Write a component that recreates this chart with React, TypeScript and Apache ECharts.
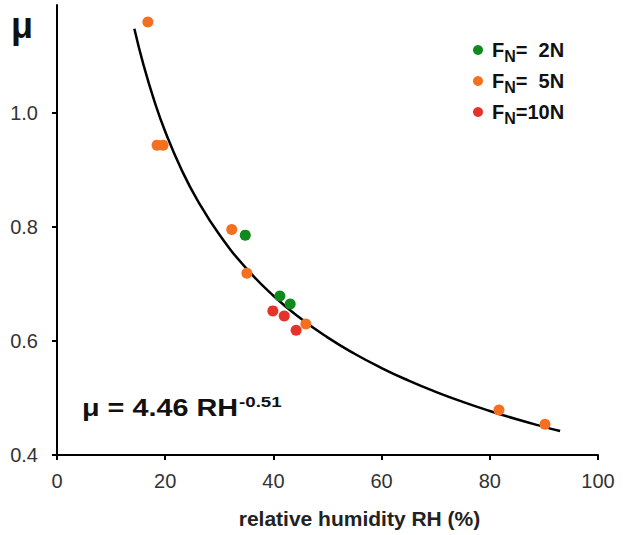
import React, { useEffect, useRef } from "react";
import * as echarts from "echarts";

const RH_2N = [34.8, 41.2, 43.1];
const MU_2N = [0.786, 0.679, 0.665];
const RH_5N = [16.8, 18.5, 19.6, 32.3, 35.1, 46.0, 81.7, 90.2];
const MU_5N = [1.16, 0.944, 0.944, 0.796, 0.719, 0.63, 0.479, 0.454];
const RH_10N = [39.9, 42.0, 44.2];
const MU_10N = [0.653, 0.644, 0.619];

// fitted power law printed on the chart: mu = 4.46 * RH^-0.51
const FIT_A = 4.46;
const FIT_B = -0.51;
const FIT_RH = [14.3, 16, 18, 20, 23, 26, 30, 35, 40, 45, 50, 55, 60, 65, 70, 75, 80, 85, 90, 93];

const X_TICKS = [0, 20, 40, 60, 80, 100];
const Y_TICKS = [0.4, 0.6, 0.8, 1.0];

const zip = (xs: number[], ys: number[]) => xs.map((x, i) => [x, ys[i]]);

const FONT = "'Liberation Sans', Arial, sans-serif";

export default function App() {
  const ref = useRef<HTMLDivElement>(null);
  useEffect(() => {
    const chart = echarts.init(ref.current!, null, { renderer: "svg" });
    const legendRich = {
      f: { fontSize: 20, fontWeight: "bold", color: "#111", fontFamily: FONT, padding: [0, 0, 0, 4] },
      a: { fontSize: 20, fontWeight: "bold", color: "#111", fontFamily: FONT },
      s: { fontSize: 16, fontWeight: "bold", color: "#111", fontFamily: FONT, padding: [12, 0, 0, 0] },
    };
    chart.setOption({
      animation: false,
      grid: { left: 57, right: 25, top: 5, bottom: 80, containLabel: false, outerBoundsMode: "none" },
      legend: {
        orient: "vertical",
        left: 468,
        top: 35,
        itemGap: 7,
        itemWidth: 10,
        itemHeight: 10,
        icon: "circle",
        data: ["2N", "5N", "10N"],
        formatter: (n: string) => {
          const rest = n === "10N" ? "=10N" : n === "5N" ? "=  5N" : "=  2N";
          return `{f|F}{s|N}{a|${rest}}`;
        },
        textStyle: { rich: legendRich },
      },
      xAxis: {
        type: "value",
        min: X_TICKS[0],
        max: X_TICKS[X_TICKS.length - 1],
        interval: 20,
        axisLine: { show: true, lineStyle: { color: "#000", width: 2 } },
        axisTick: { show: true, inside: false, length: 5, lineStyle: { color: "#000", width: 2 } },
        axisLabel: { color: "#333", fontSize: 20, fontFamily: FONT, margin: 16 },
        splitLine: { show: false },
        name: "relative humidity RH (%)",
        nameLocation: "middle",
        nameGap: 53,
        nameTextStyle: { fontSize: 21, fontWeight: "bold", color: "#222", fontFamily: FONT, padding: [0, 0, 0, 64] },
      },
      yAxis: {
        type: "value",
        min: Y_TICKS[0],
        max: 1.19,
        interval: 0.2,
        axisLine: { show: true, lineStyle: { color: "#000", width: 2 } },
        axisTick: { show: true, inside: false, length: 5, lineStyle: { color: "#000", width: 2 } },
        axisLabel: {
          color: "#333",
          fontSize: 20,
          fontFamily: FONT,
          margin: 19,
          showMaxLabel: false,
          formatter: (v: number) => (Y_TICKS.some((t) => Math.abs(t - v) < 1e-6) ? v.toFixed(1) : ""),
        },
        splitLine: { show: false },
      },
      graphic: [
        {
          type: "text",
          x: 11,
          y: 7,
          style: { text: "μ", fontSize: 36, fontWeight: "bold", fill: "#111", fontFamily: FONT, align: "left", verticalAlign: "top" },
        },
        {
          type: "text",
          x: 82,
          y: 408,
          scaleX: 1.2,
          style: {
            text: "μ = 4.46 RH",
            fontSize: 24,
            fontWeight: "bold",
            fill: "#111",
            fontFamily: FONT,
            align: "left",
            verticalAlign: "middle",
          },
        },
        {
          type: "text",
          x: 239,
          y: 402,
          scaleX: 1.25,
          style: {
            text: "-0.51",
            fontSize: 15,
            fontWeight: "bold",
            fill: "#111",
            fontFamily: FONT,
            align: "left",
            verticalAlign: "middle",
          },
        },
      ],
      series: [
        {
          name: "fit",
          type: "line",
          data: FIT_RH.map((x) => [x, FIT_A * Math.pow(x, FIT_B)]),
          smooth: true,
          showSymbol: false,
          symbol: "none",
          lineStyle: { color: "#000", width: 2.5 },
          z: 1,
          silent: true,
        },
        {
          name: "2N",
          type: "scatter",
          data: zip(RH_2N, MU_2N),
          symbolSize: 11,
          itemStyle: { color: "#0f8a1c", opacity: 1 },
          z: 3,
        },
        {
          name: "5N",
          type: "scatter",
          data: zip(RH_5N, MU_5N),
          symbolSize: 11,
          itemStyle: { color: "#f37021", opacity: 1 },
          z: 3,
        },
        {
          name: "10N",
          type: "scatter",
          data: zip(RH_10N, MU_10N),
          symbolSize: 11,
          itemStyle: { color: "#e5332a", opacity: 1 },
          z: 3,
        },
      ],
    });
    return () => chart.dispose();
  }, []);
  return (
    <div
      ref={ref}
      style={{ position: "fixed", left: 0, top: 0, width: 623, height: 535, background: "#fff" }}
    />
  );
}
